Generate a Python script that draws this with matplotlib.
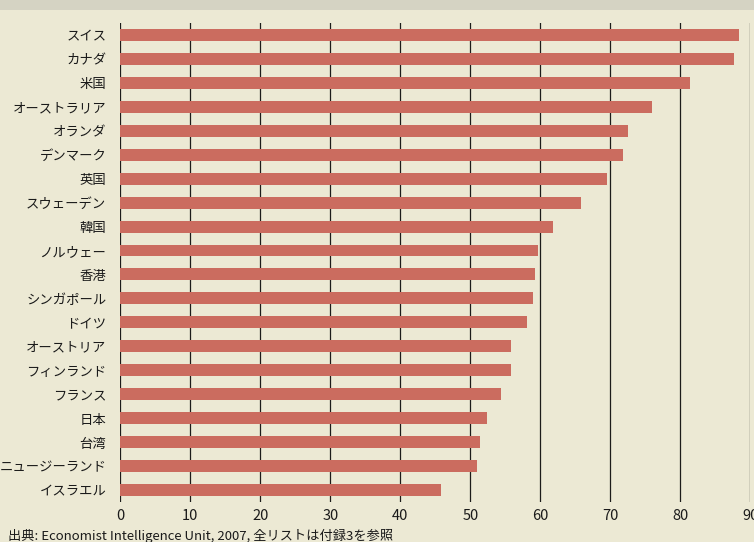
import matplotlib
matplotlib.use("Agg")
import matplotlib.pyplot as plt
from matplotlib.patches import Rectangle

plt.rcParams['font.family'] = ['Noto Sans CJK JP', 'DejaVu Sans']

countries = ["スイス", "カナダ", "米国", "オーストラリア", "オランダ", "デンマーク",
             "英国", "スウェーデン", "韓国", "ノルウェー", "香港", "シンガポール",
             "ドイツ", "オーストリア", "フィンランド", "フランス", "日本", "台湾",
             "ニュージーランド", "イスラエル"]
scores = [88.4, 87.7, 81.4, 76.0, 72.5, 71.8,
          69.5, 65.8, 61.8, 59.7, 59.2, 59.0,
          58.1, 55.8, 55.8, 54.4, 52.4, 51.4,
          51.0, 45.8]
x_ticks = [0, 10, 20, 30, 40, 50, 60, 70, 80, 90]
source_note = "出典: Economist Intelligence Unit, 2007, 全リストは付録3を参照"

bg = "#ece9d4"
band = "#d5d3c3"
bar_color = "#cb6c5f"
line_color = "#1c1c1a"

fig = plt.figure(figsize=(7.54, 5.42), dpi=100, facecolor=bg)
fig.patches.append(Rectangle((0, 1 - 10 / 542), 1, 10 / 542, transform=fig.transFigure,
                             facecolor=band, edgecolor="none", zorder=0))

ax = fig.add_axes([120.3 / 754, 40 / 542, 630 / 754, 479.3 / 542])
ax.set_facecolor(bg)

ypos = list(range(len(countries)))
for x in x_ticks:
    ax.axvline(x, color=line_color, lw=0.9, zorder=1)
ax.barh(ypos, scores, height=0.5, color=bar_color, zorder=2)

ax.set_xlim(0, 90)
ax.set_ylim(19.5, -0.51)
ax.set_yticks(ypos)
ax.set_yticklabels(countries, fontsize=9.6, color="#1a1a1a")
ax.set_xticks(x_ticks)
ax.set_xticklabels([str(v) for v in x_ticks], fontsize=10.5, color="#1a1a1a")
ax.tick_params(axis="y", length=0, pad=10)
ax.tick_params(axis="x", length=0, pad=5)
for s in ax.spines.values():
    s.set_visible(False)

fig.text(8 / 754, 1 - 536 / 542, source_note, fontsize=9.5, color="#1a1a1a",
         ha="left", va="center")

fig.savefig("out.png", dpi=100, facecolor=bg)
